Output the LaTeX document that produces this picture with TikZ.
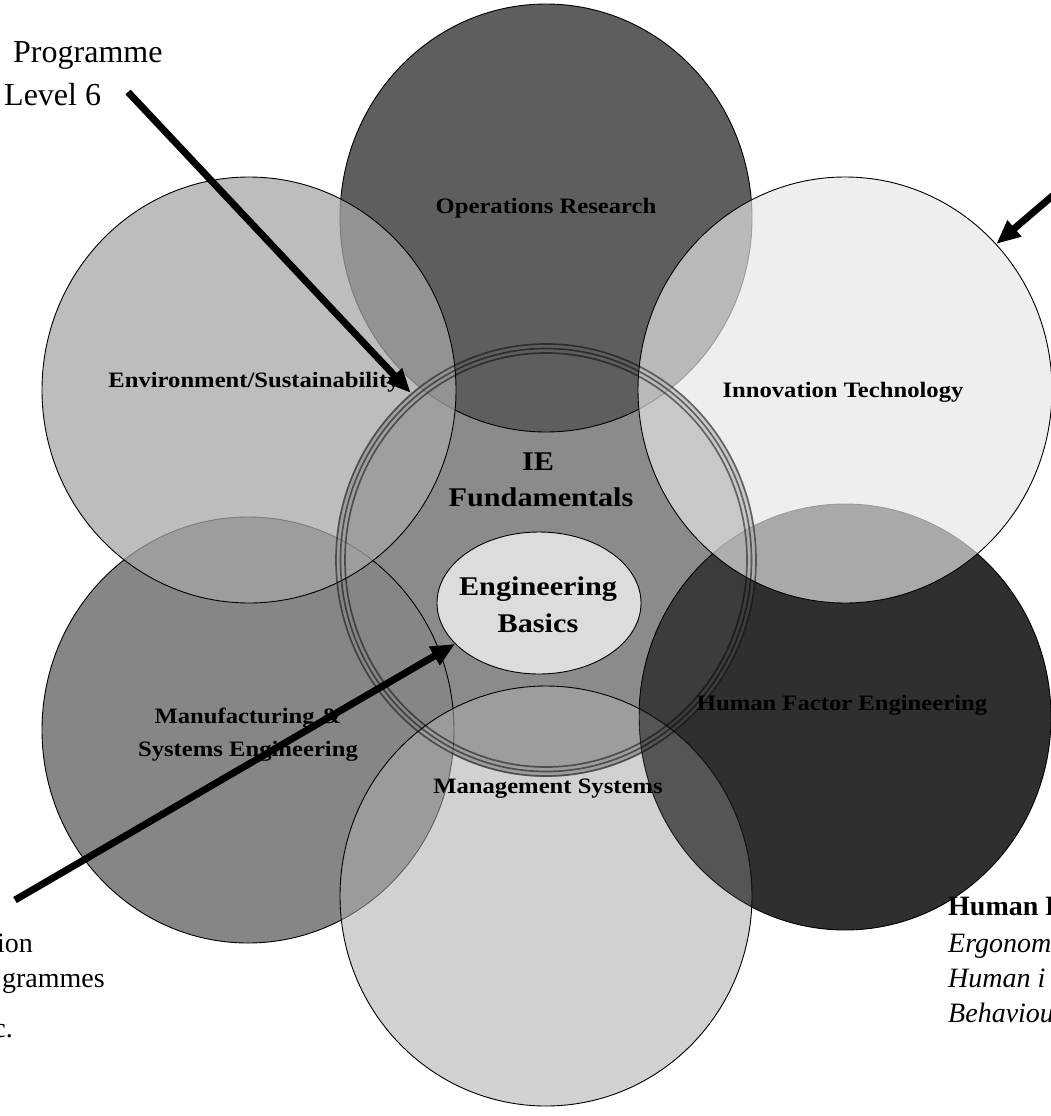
\documentclass[tikz,border=0pt]{standalone}
\usepackage{fontspec}
\setmainfont{Liberation Serif}
\newfontfamily\labfont[FakeStretch=1.12]{Liberation Serif}
\usetikzlibrary{shapes.geometric,arrows.meta}
\definecolor{cRing}{gray}{0.545}
\definecolor{cOps}{gray}{0.369}
\definecolor{cHum}{gray}{0.184}
\definecolor{cHumR}{gray}{0.235}
\definecolor{cMfg}{gray}{0.525}
\definecolor{cInn}{gray}{0.902}
\definecolor{cEnv}{gray}{0.651}
\definecolor{cMgt}{gray}{0.678}
\definecolor{cMH}{gray}{0.333}
\definecolor{cEB}{gray}{0.863}
\tikzset{
  circ/.style={ellipse, inner sep=0pt, draw=black, line width=0.9pt},
  ringline/.style={draw=black, draw opacity=0.5, line width=1.7pt},
  lab/.style={font=\labfont\bfseries\fontsize{22}{26}\selectfont, inner sep=0pt, anchor=base},
  big/.style={font=\labfont\bfseries\fontsize{27}{36}\selectfont, inner sep=0pt, anchor=base},
  outa/.style={font=\fontsize{32}{40}\selectfont, inner sep=0pt, anchor=base west},
  outb/.style={font=\fontsize{28}{34}\selectfont, inner sep=0pt, anchor=base east},
  outc/.style={font=\fontsize{28}{34}\selectfont, inner sep=0pt, anchor=base west},
  arr/.style={line width=7pt, -{Triangle[length=24pt,width=20pt]}},
}
\begin{document}
\begin{tikzpicture}[x=1pt,y=-1pt]
\useasboundingbox (0,0) rectangle (1051,1116);
\fill[white] (0,0) rectangle (1051,1116);

% central ring disc
\node[circ, draw=none, fill=cRing, minimum width=422pt, minimum height=434pt] (ring) at (546,560) {};
% Operations Research
\node[circ, fill=cOps, minimum width=412pt, minimum height=428pt] (ops) at (546,218) {};
% Human Factor Engineering
\node[circ, draw=none, fill=cHum, minimum width=412pt, minimum height=426pt] (hum) at (845,717) {};
\begin{scope}
  \clip (546,560) ellipse [x radius=211pt, y radius=217pt];
  \fill[cHumR] (845,717) ellipse [x radius=206pt, y radius=213pt];
\end{scope}
\draw[line width=0.9pt] (845,717) ellipse [x radius=206pt, y radius=213pt];
% Manufacturing
\node[circ, fill=cMfg, minimum width=412pt, minimum height=426pt] (mfg) at (248,730) {};
% Innovation Technology
\node[circ, fill=cInn, fill opacity=0.67, minimum width=414pt, minimum height=426pt] (inn) at (845,390) {};
% Environment
\node[circ, fill=cEnv, fill opacity=0.74, minimum width=414pt, minimum height=426pt] (env) at (249,390) {};
% Management Systems
\node[circ, fill=cMgt, fill opacity=0.55, minimum width=412pt, minimum height=420pt] (mgt) at (546,896) {};
\begin{scope}
  \clip (546,896) ellipse [x radius=206pt, y radius=210pt];
  \clip (845,717) ellipse [x radius=206pt, y radius=213pt];
  \fill[cMH] (600,600) rectangle (900,1000);
  \draw[line width=0.9pt] (845,717) ellipse [x radius=206pt, y radius=213pt];
  \draw[line width=0.9pt] (546,896) ellipse [x radius=206pt, y radius=210pt];
\end{scope}

% ring lines
\draw[ringline] (546,560) ellipse [x radius=210pt, y radius=216pt];
\draw[ringline] (546,560) ellipse [x radius=205.5pt, y radius=211.5pt];
\draw[ringline] (546,560) ellipse [x radius=201pt, y radius=207pt];

% Engineering basics
\node[circ, fill=cEB, minimum width=204pt, minimum height=142pt] (eb) at (539,603) {};

% labels
\node[lab] (lops) at (546,213) {Operations Research};
\node[lab] (lenv) at (254,387) {Environment/Sustainability};
\node[lab] (linn) at (843,397) {Innovation Technology};
\node[big] (lie) at (538,470) {IE};
\node[big] (lfun) at (541,506) {Fundamentals};
\node[big] (leb1) at (538,595) {Engineering};
\node[big] (leb2) at (538,632) {Basics};
\node[lab] (lhum) at (842,710) {Human Factor Engineering};
\node[lab] (lmfg1) at (248,723) {Manufacturing \&};
\node[lab] (lmfg2) at (248,756) {Systems Engineering};
\node[lab] (lmgt) at (548,793) {Management Systems};

% outer texts
\node[outa] (tprog) at (13,63) {Programme};
\node[outa] (tlev) at (4,105) {Level 6};
\node[outb] (tion) at (33,952) {ion};
\node[outb] (tgram) at (105,987) {grammes};
\node[outb] (tetc) at (13,1037) {c.};
\node[outc, font=\bfseries\fontsize{28}{34}\selectfont] (thf) at (948,915) {Human F};
\node[outc, font=\itshape\fontsize{28}{34}\selectfont] (terg) at (948,952) {Ergonom};
\node[outc, font=\itshape\fontsize{28}{34}\selectfont] (thi) at (948,987) {Human i};
\node[outc, font=\itshape\fontsize{28}{34}\selectfont] (tbeh) at (948,1022) {Behaviou};

% arrows
\coordinate (a1) at (128,92);
\coordinate (a2) at (1091,163);
\coordinate (a3) at (15,900);
\draw[arr] (a1) -- (ring.129);
\draw[arr] (a2) -- (inn.44);
\draw[arr] (a3) -- (eb.206);
\end{tikzpicture}
\end{document}
